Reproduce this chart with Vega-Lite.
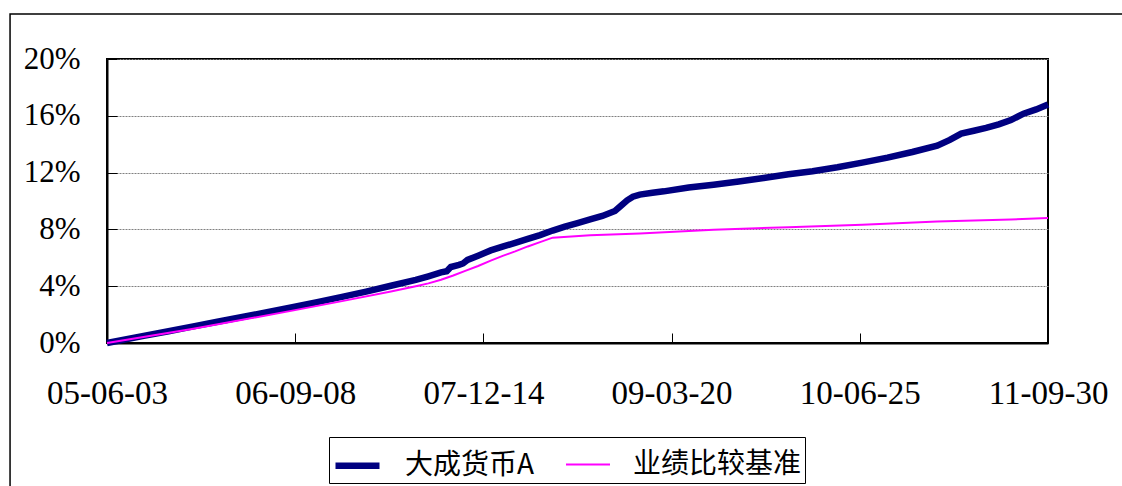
{
  "$schema": "https://vega.github.io/schema/vega-lite/v6.json",
  "width": 941,
  "height": 284,
  "autosize": {"type": "none"},
  "padding": {"left": 107, "top": 59, "right": 74, "bottom": 143},
  "background": "white",
  "config": {
    "view": {"stroke": "#000", "strokeWidth": 2},
    "font": "Liberation Serif"
  },
  "data": {
    "values": [
      {"d": "2005-06-03", "v": 0, "s": "大成货币A"},
      {"d": "2005-09-01", "v": 0.5, "s": "大成货币A"},
      {"d": "2005-11-01", "v": 0.83, "s": "大成货币A"},
      {"d": "2006-01-01", "v": 1.17, "s": "大成货币A"},
      {"d": "2006-03-01", "v": 1.5, "s": "大成货币A"},
      {"d": "2006-05-01", "v": 1.83, "s": "大成货币A"},
      {"d": "2006-07-01", "v": 2.17, "s": "大成货币A"},
      {"d": "2006-09-01", "v": 2.52, "s": "大成货币A"},
      {"d": "2006-11-01", "v": 2.88, "s": "大成货币A"},
      {"d": "2007-01-01", "v": 3.25, "s": "大成货币A"},
      {"d": "2007-03-01", "v": 3.62, "s": "大成货币A"},
      {"d": "2007-05-01", "v": 4.03, "s": "大成货币A"},
      {"d": "2007-07-01", "v": 4.45, "s": "大成货币A"},
      {"d": "2007-08-01", "v": 4.7, "s": "大成货币A"},
      {"d": "2007-09-01", "v": 4.97, "s": "大成货币A"},
      {"d": "2007-09-15", "v": 5.05, "s": "大成货币A"},
      {"d": "2007-09-25", "v": 5.35, "s": "大成货币A"},
      {"d": "2007-10-15", "v": 5.5, "s": "大成货币A"},
      {"d": "2007-10-25", "v": 5.6, "s": "大成货币A"},
      {"d": "2007-11-05", "v": 5.85, "s": "大成货币A"},
      {"d": "2007-12-01", "v": 6.15, "s": "大成货币A"},
      {"d": "2008-01-01", "v": 6.52, "s": "大成货币A"},
      {"d": "2008-02-01", "v": 6.8, "s": "大成货币A"},
      {"d": "2008-03-01", "v": 7.05, "s": "大成货币A"},
      {"d": "2008-04-01", "v": 7.33, "s": "大成货币A"},
      {"d": "2008-05-01", "v": 7.6, "s": "大成货币A"},
      {"d": "2008-06-01", "v": 7.92, "s": "大成货币A"},
      {"d": "2008-07-01", "v": 8.2, "s": "大成货币A"},
      {"d": "2008-08-01", "v": 8.45, "s": "大成货币A"},
      {"d": "2008-09-01", "v": 8.7, "s": "大成货币A"},
      {"d": "2008-10-01", "v": 8.95, "s": "大成货币A"},
      {"d": "2008-11-01", "v": 9.3, "s": "大成货币A"},
      {"d": "2008-11-15", "v": 9.65, "s": "大成货币A"},
      {"d": "2008-12-01", "v": 10.05, "s": "大成货币A"},
      {"d": "2008-12-15", "v": 10.3, "s": "大成货币A"},
      {"d": "2009-01-01", "v": 10.45, "s": "大成货币A"},
      {"d": "2009-02-01", "v": 10.58, "s": "大成货币A"},
      {"d": "2009-03-01", "v": 10.68, "s": "大成货币A"},
      {"d": "2009-05-01", "v": 10.95, "s": "大成货币A"},
      {"d": "2009-07-01", "v": 11.15, "s": "大成货币A"},
      {"d": "2009-09-01", "v": 11.38, "s": "大成货币A"},
      {"d": "2009-11-01", "v": 11.62, "s": "大成货币A"},
      {"d": "2010-01-01", "v": 11.88, "s": "大成货币A"},
      {"d": "2010-03-01", "v": 12.1, "s": "大成货币A"},
      {"d": "2010-05-01", "v": 12.38, "s": "大成货币A"},
      {"d": "2010-07-01", "v": 12.7, "s": "大成货币A"},
      {"d": "2010-09-01", "v": 13.05, "s": "大成货币A"},
      {"d": "2010-11-01", "v": 13.45, "s": "大成货币A"},
      {"d": "2011-01-01", "v": 13.9, "s": "大成货币A"},
      {"d": "2011-02-01", "v": 14.3, "s": "大成货币A"},
      {"d": "2011-03-01", "v": 14.75, "s": "大成货币A"},
      {"d": "2011-04-01", "v": 14.95, "s": "大成货币A"},
      {"d": "2011-05-01", "v": 15.15, "s": "大成货币A"},
      {"d": "2011-06-01", "v": 15.4, "s": "大成货币A"},
      {"d": "2011-07-01", "v": 15.7, "s": "大成货币A"},
      {"d": "2011-08-01", "v": 16.15, "s": "大成货币A"},
      {"d": "2011-09-01", "v": 16.45, "s": "大成货币A"},
      {"d": "2011-09-30", "v": 16.8, "s": "大成货币A"},
      {"d": "2005-06-03", "v": 0, "s": "业绩比较基准"},
      {"d": "2006-01-01", "v": 1.0, "s": "业绩比较基准"},
      {"d": "2006-09-01", "v": 2.28, "s": "业绩比较基准"},
      {"d": "2007-01-01", "v": 2.95, "s": "业绩比较基准"},
      {"d": "2007-05-01", "v": 3.62, "s": "业绩比较基准"},
      {"d": "2007-07-01", "v": 4.0, "s": "业绩比较基准"},
      {"d": "2007-08-01", "v": 4.2, "s": "业绩比较基准"},
      {"d": "2007-09-01", "v": 4.45, "s": "业绩比较基准"},
      {"d": "2007-10-01", "v": 4.75, "s": "业绩比较基准"},
      {"d": "2007-11-01", "v": 5.1, "s": "业绩比较基准"},
      {"d": "2007-12-01", "v": 5.42, "s": "业绩比较基准"},
      {"d": "2008-01-01", "v": 5.8, "s": "业绩比较基准"},
      {"d": "2008-02-01", "v": 6.15, "s": "业绩比较基准"},
      {"d": "2008-03-01", "v": 6.45, "s": "业绩比较基准"},
      {"d": "2008-04-01", "v": 6.8, "s": "业绩比较基准"},
      {"d": "2008-05-01", "v": 7.1, "s": "业绩比较基准"},
      {"d": "2008-06-01", "v": 7.42, "s": "业绩比较基准"},
      {"d": "2008-09-01", "v": 7.58, "s": "业绩比较基准"},
      {"d": "2009-01-01", "v": 7.72, "s": "业绩比较基准"},
      {"d": "2009-07-01", "v": 7.98, "s": "业绩比较基准"},
      {"d": "2010-01-01", "v": 8.15, "s": "业绩比较基准"},
      {"d": "2010-07-01", "v": 8.33, "s": "业绩比较基准"},
      {"d": "2011-01-01", "v": 8.55, "s": "业绩比较基准"},
      {"d": "2011-07-01", "v": 8.7, "s": "业绩比较基准"},
      {"d": "2011-09-30", "v": 8.8, "s": "业绩比较基准"}
    ]
  },
  "layer": [
    {
      "mark": {"type": "line"},
      "encoding": {
        "x": {
          "field": "d", "type": "temporal",
          "scale": {"type": "utc", "domain": [{"year": 2005, "month": 6, "date": 3, "utc": true}, {"year": 2011, "month": 9, "date": 30, "utc": true}]},
          "axis": {
            "title": null,
            "values": [
              {"year": 2005, "month": 6, "date": 3, "utc": true},
              {"year": 2006, "month": 9, "date": 8, "utc": true},
              {"year": 2007, "month": 12, "date": 14, "utc": true},
              {"year": 2009, "month": 3, "date": 20, "utc": true},
              {"year": 2010, "month": 6, "date": 25, "utc": true},
              {"year": 2011, "month": 9, "date": 30, "utc": true}
            ],
            "format": "%y-%m-%d",
            "labelFlush": false,
            "labelOverlap": false,
            "labelBound": false,
            "labelFont": "Liberation Serif",
            "labelFontSize": 33,
            "labelColor": "#000",
            "labelPadding": 44,
            "tickSize": -10,
            "tickColor": "#000",
            "tickWidth": 1,
            "domainColor": "#000",
            "domainWidth": 2,
            "grid": false
          }
        },
        "y": {
          "field": "v", "type": "quantitative",
          "scale": {"domain": [0, 20]},
          "axis": {
            "title": null,
            "values": [0, 4, 8, 12, 16, 20],
            "labelExpr": "datum.value + '%'",
            "labelFont": "Liberation Serif",
            "labelFontSize": 31,
            "labelColor": "#000",
            "labelPadding": 37,
            "labelOverlap": false,
            "labelBound": false,
            "labelFlush": false,
            "tickSize": -10,
            "tickColor": "#000",
            "tickWidth": 1,
            "domainColor": "#000",
            "domainWidth": 2,
            "grid": true,
            "gridColor": "#808080",
            "gridDash": [2, 1],
            "gridWidth": 1
          }
        },
        "color": {
          "field": "s", "type": "nominal",
          "scale": {"domain": ["大成货币A", "业绩比较基准"], "range": ["#000080", "#FF00FF"]},
          "legend": {
            "title": null, "orient": "none", "legendX": 222, "legendY": 378,
            "direction": "horizontal", "symbolType": "stroke", "symbolSize": 1936,
            "labelFont": "Noto Sans CJK SC", "labelFontSize": 28, "labelColor": "#000",
            "labelLimit": 400, "labelOffset": 22, "columnPadding": 27, "padding": 3,
            "strokeColor": "#000", "fillColor": "#fff"
          }
        },
        "strokeWidth": {
          "field": "s", "type": "nominal",
          "scale": {"domain": ["大成货币A", "业绩比较基准"], "range": [6.5, 2]},
          "legend": {
            "title": null, "orient": "none", "legendX": 222, "legendY": 378,
            "direction": "horizontal", "symbolType": "stroke", "symbolSize": 1936,
            "labelFont": "Noto Sans CJK SC", "labelFontSize": 28, "labelColor": "#000",
            "labelLimit": 400, "labelOffset": 22, "columnPadding": 27, "padding": 3,
            "strokeColor": "#000", "fillColor": "#fff"
          }
        }
      }
    },
    {
      "data": {"values": [{}]},
      "mark": {"type": "rect", "filled": false, "stroke": "#000", "strokeWidth": 1.5, "clip": false},
      "encoding": {
        "x": {"datum": {"year": 2004, "month": 10, "date": 8, "utc": true}, "type": "temporal", "title": null},
        "x2": {"datum": {"year": 2014, "month": 1, "date": 1, "utc": true}},
        "y": {"datum": 23.17, "type": "quantitative", "title": null},
        "y2": {"datum": -30}
      }
    }
  ]
}
